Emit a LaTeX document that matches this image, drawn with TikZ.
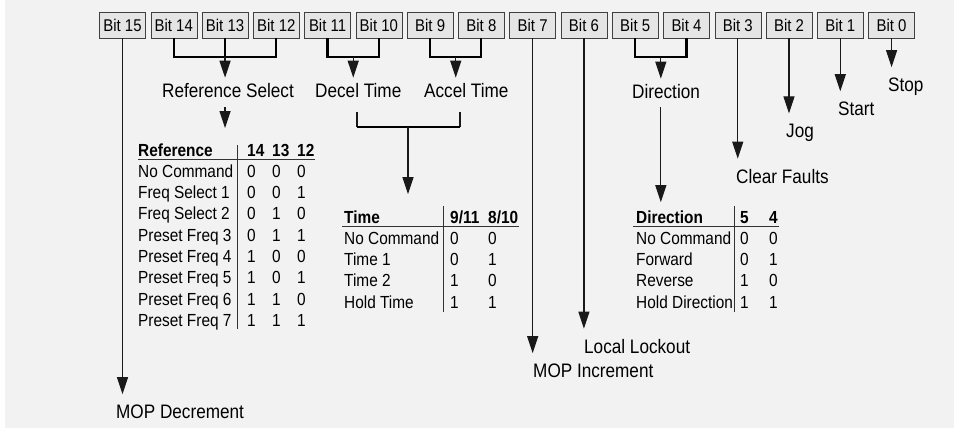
\documentclass[tikz,border=0pt]{standalone}
\usepackage{fontspec}
\setmainfont{Liberation Sans}[FakeStretch=0.88]
\usetikzlibrary{arrows.meta,calc}

\begin{document}
\begin{tikzpicture}[x=1pt, y=-1pt,
  arr/.style={-{Triangle[width=11pt,length=17pt]}},
  bitbox/.style={draw=black!75, fill=black!10, minimum width=46pt, minimum height=26pt, inner sep=0pt, font=\fontsize{17}{17}\selectfont},
  lbl/.style={anchor=base west, inner sep=0pt, font=\fontsize{19.5}{20}\selectfont},
  tbl/.style={anchor=base west, inner sep=0pt, font=\fontsize{17.5}{18}\selectfont},
  thd/.style={tbl, font=\fontsize{17.5}{18}\selectfont\bfseries},
  wire/.style={line width=1.2pt, draw=black!90},
  brace/.style={line width=2.2pt, draw=black},
  rule/.style={line width=1pt, draw=black!80}]

  \useasboundingbox (0,0) rectangle (966,429);
  \fill[black!5] (5,0) rectangle (954,428);

  \foreach \i in {0,...,15}
    \node[bitbox] (b\i) at ({122.5+51.27*(15-\i)},25) {Bit \i};

  \node[lbl] (refsel) at (162,97) {Reference Select};
  \node[lbl] (decel) at (315,97) {Decel Time};
  \node[lbl] (accel) at (424,97) {Accel Time};
  \node[lbl] (dirlbl) at (632,98) {Direction};
  \node[lbl] (stop) at (888,91) {Stop};
  \node[lbl] (start) at (838,115) {Start};
  \node[lbl] (jog) at (786,137) {Jog};
  \node[lbl] (clrflt) at (736,183) {Clear Faults};
  \node[lbl] (lockout) at (584,353) {Local Lockout};
  \node[lbl] (mopinc) at (533,377) {MOP Increment};
  \node[lbl] (mopdec) at (116,418) {MOP Decrement};

  \coordinate (rsel) at ($(b13.south)+(0,19)$);
  \coordinate (dsel) at ($(b11.south)!.5!(b10.south)+(0,19)$);
  \coordinate (asel) at ($(b9.south)!.5!(b8.south)+(0,19)$);
  \coordinate (dirsel) at ($(b5.south)!.5!(b4.south)+(0,19)$);
  \draw[brace] (b14.south) |- (rsel) -| (b12.south);
  \draw[brace] (b13.south) -- (rsel);
  \draw[brace] (b11.south) |- (dsel) -| (b10.south);
  \draw[brace] (b9.south) |- (asel) -| (b8.south);
  \draw[brace] (b5.south) |- (dirsel) -| (b4.south);
  \draw[wire,arr,shorten >=5pt] (rsel) -- (rsel |- refsel.north);
  \draw[wire,arr,shorten >=5pt] (dsel) -- (dsel |- decel.north);
  \draw[wire,arr,shorten >=5pt] (asel) -- (asel |- accel.north);
  \draw[wire,arr,shorten >=5pt] (dirsel) -- (dirsel |- dirlbl.north);

  \foreach \b/\l in {15/mopdec,7/mopinc,6/lockout,3/clrflt,2/jog,1/start,0/stop}
    \draw[wire,arr,shorten >=10pt] (b\b.south) -- (b\b.south |- \l.north);

  \node[thd] (refhd) at (138,156) {Reference};
  \node[thd] (refc14) at (247,156) {14};
  \node[thd] (refc13) at (272,156) {13};
  \node[thd] (refc12) at (297,156) {12};
  \foreach \txt/\p/\q/\r [count=\k] in {No Command/0/0/0, Freq Select 1/0/0/1,
      Freq Select 2/0/1/0, Preset Freq 3/0/1/1, Preset Freq 4/1/0/0,
      Preset Freq 5/1/0/1, Preset Freq 6/1/1/0, Preset Freq 7/1/1/1} {
    \node[tbl] (ref\k) at (138,{156+21.3*\k}) {\txt};
    \node[tbl] (ref\k-a) at (247,{156+21.3*\k}) {\p};
    \node[tbl] (ref\k-b) at (272,{156+21.3*\k}) {\q};
    \node[tbl] (ref\k-c) at (297,{156+21.3*\k}) {\r};
  }
  \draw[rule] (138,159) -- (315,159);
  \draw[rule] (237,145) -- (237,329);

  \coordinate (dtop) at (357,112);
  \coordinate (atop) at (460,112);
  \coordinate (tmid) at (408,127);
  \draw[wire] (dtop) -- (dtop |- tmid);
  \draw[wire] (atop) -- (atop |- tmid);
  \draw[brace] (dtop |- tmid) -- (atop |- tmid);

  \node[thd] (timehd) at (344,223) {Time};
  \node[thd] (timec1) at (450,223) {9/11};
  \node[thd] (timec2) at (488,223) {8/10};
  \foreach \txt/\p/\q [count=\k] in {No Command/0/0, Time 1/0/1, Time 2/1/0, Hold Time/1/1} {
    \node[tbl] (time\k) at (344,{223+21.3*\k}) {\txt};
    \node[tbl] (time\k-a) at (450,{223+21.3*\k}) {\p};
    \node[tbl] (time\k-b) at (488,{223+21.3*\k}) {\q};
  }
  \draw[rule] (342,226) -- (519,226);
  \draw[rule] (443,206) -- (443,312);

  \node[thd] (dirhd) at (636,223) {Direction};
  \node[thd] (dirc5) at (740,223) {5};
  \node[thd] (dirc4) at (769,223) {4};
  \foreach \txt/\p/\q [count=\k] in {No Command/0/0, Forward/0/1, Reverse/1/0, Hold Direction/1/1} {
    \node[tbl] (dir\k) at (636,{223+21.3*\k}) {\txt};
    \node[tbl] (dir\k-a) at (740,{223+21.3*\k}) {\p};
    \node[tbl] (dir\k-b) at (769,{223+21.3*\k}) {\q};
  }
  \draw[rule] (633,226) -- (779,226);
  \draw[rule] (734,206) -- (734,312);

  \draw[wire,arr,shorten <=10pt,shorten >=15pt] (rsel |- refsel.south) -- (rsel |- refhd.north);
  \draw[wire,arr,shorten >=16pt] (tmid) -- (tmid |- timehd.north);
  \draw[wire,arr,shorten <=9pt,shorten >=8pt] (dirsel |- dirlbl.south) -- (dirsel |- dirhd.north);
\end{tikzpicture}
\end{document}
